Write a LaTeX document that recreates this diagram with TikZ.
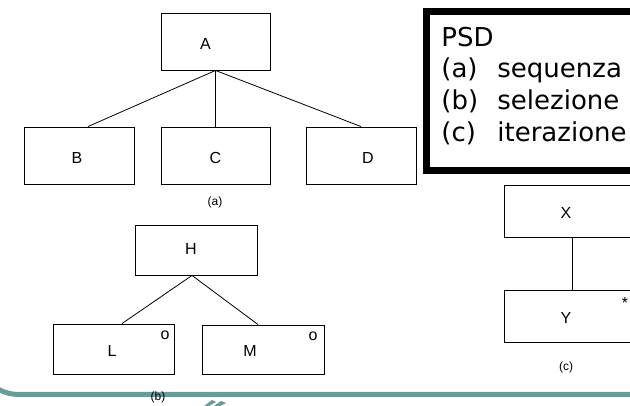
\documentclass[tikz,border=0pt]{standalone}
\usepackage{fontspec}
\setmainfont{Liberation Sans}
\newfontfamily\psdfont{DejaVu Sans}
\definecolor{barteal}{RGB}{104,156,152}

\begin{document}
\begin{tikzpicture}[x=1pt,y=-1pt,
  box/.style={draw,line width=0.9pt,minimum width=#1,inner sep=0pt},
  lab/.style={font=\fontsize{16}{18}\selectfont},
  sublab/.style={font=\fontsize{12}{14}\selectfont},
  psd/.style={anchor=base west,inner sep=0pt,font=\psdfont\fontsize{26}{31}\selectfont},
  every label/.style={lab},
  line width=0.8pt]
\useasboundingbox (0,0) rectangle (630,406);

% (a) sequenza
\node [box=109pt,minimum height=57pt,label={[xshift=-10pt,yshift=-2.5pt]center:A}] (A) at (215.5,41.5) {};
\node [box=110pt,minimum height=57pt,label={[xshift=-2pt,yshift=-2.5pt]center:B}] (B) at (79,155.5) {};
\node [box=109pt,minimum height=57pt,label={[yshift=-2.5pt]center:C}] (C) at (215.5,155.5) {};
\node [box=110pt,minimum height=57pt,label={[xshift=7pt,yshift=-2.5pt]center:D}] (D) at (361,155.5) {};
\node [sublab] (capa) at (215,202) {(a)};
\draw (A.south) -- ([xshift=9pt]B.north);
\draw (A.south) -- (C.north);
\draw (A.south) -- (D.north);

% (b) selezione
\node [box=122pt,minimum height=50pt,label={[xshift=-5pt,yshift=1pt]center:H}] (H) at (196,250) {};
\node [box=121pt,minimum height=50pt,label={[xshift=-1.5pt,yshift=-2pt]center:L}] (L) at (113.5,349) {};
\node [box=122pt,minimum height=49pt,label={[xshift=-13pt,yshift=-1.5pt]center:M}] (M) at (263,349.5) {};
\node [lab] (oL) at (165,335) {o};
\node [lab] (oM) at (313,336) {o};
\draw ([xshift=-4pt]H.south) -- ([xshift=8.5pt]L.north);
\draw ([xshift=-4pt]H.south) -- ([xshift=-5pt]M.north);

% (c) iterazione
\node [box=136pt,minimum height=52pt,label={[xshift=-6pt,yshift=-2pt]center:X}] (X) at (572,211) {};
\node [box=136pt,minimum height=52pt,label={[xshift=-6pt,yshift=-2pt]center:Y}] (Y) at (572,316) {};
\node [lab] (star) at (625,303) {*};
\node [sublab] (capc) at (566,367) {(c)};
\draw (X.south) -- (Y.north);

% legenda
\draw [line width=7pt] (670,11.5) -- (426.5,11.5) -- (426.5,171) -- (670,171);
\node [psd] (title) at (441,47) {PSD};
\node [psd] (seq) at (441,78) {\makebox[56pt][l]{(a)}sequenza};
\node [psd] (sel) at (441,110) {\makebox[56pt][l]{(b)}selezione};
\node [psd] (itr) at (441,142) {\makebox[56pt][l]{(c)}iterazione};

% barra in basso
\draw [barteal,line width=5pt] (-2,389) .. controls (6,393.5) and (12,394.5) .. (22,394.5) -- (640,394.5);
\fill [barteal] (204,406) -- (212,400) -- (216,402) -- (209,406) -- cycle;
\fill [barteal] (214,406) -- (221,401) -- (226,403) -- (220,406) -- cycle;
\node [sublab] (capb) at (158,397) {(b)};
\end{tikzpicture}
\end{document}
